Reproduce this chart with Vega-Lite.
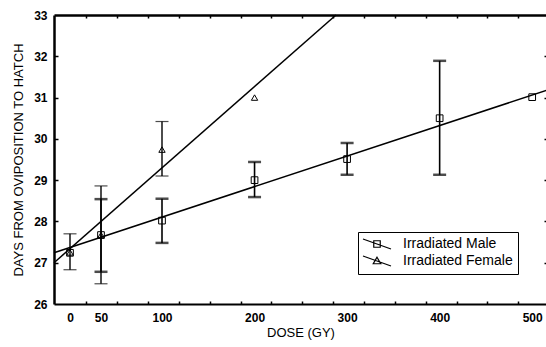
{
  "$schema": "https://vega.github.io/schema/vega-lite/v6.json",
  "width": 493,
  "height": 289,
  "autosize": {"type": "none"},
  "padding": {"left": 54, "top": 15, "right": 0, "bottom": 43},
  "background": "white",
  "config": {
    "view": {"stroke": null},
    "font": "Liberation Sans",
    "axis": {"labelFont": "Liberation Sans", "titleFont": "Liberation Sans", "domainColor": "black", "tickColor": "black", "labelColor": "black", "titleColor": "black", "grid": false},
    "legend": {
      "orient": "none", "legendX": 304, "legendY": 217,
      "strokeColor": "black", "fillColor": "white", "padding": 5, "cornerRadius": 0,
      "labelFont": "Liberation Sans", "labelFontSize": 14, "labelColor": "black",
      "symbolSize": 100, "symbolStrokeColor": "black", "symbolFillColor": "transparent", "symbolStrokeWidth": 1.2,
      "symbolOffset": 7, "rowPadding": 1, "labelOffset": 19
    }
  },
  "datasets": {
    "points": [
      {"series": "Irradiated Female", "dose": 0, "days": 27.25, "low": 26.83, "high": 27.7},
      {"series": "Irradiated Female", "dose": 50, "days": 27.67, "low": 26.49, "high": 28.86},
      {"series": "Irradiated Female", "dose": 100, "days": 29.74, "low": 29.1, "high": 30.42},
      {"series": "Irradiated Female", "dose": 200, "days": 31.0},
      {"series": "Irradiated Male", "dose": 0, "days": 27.24},
      {"series": "Irradiated Male", "dose": 50, "days": 27.67, "low": 26.78, "high": 28.54},
      {"series": "Irradiated Male", "dose": 100, "days": 28.02, "low": 27.48, "high": 28.55},
      {"series": "Irradiated Male", "dose": 200, "days": 29.0, "low": 28.59, "high": 29.44},
      {"series": "Irradiated Male", "dose": 300, "days": 29.51, "low": 29.13, "high": 29.9},
      {"series": "Irradiated Male", "dose": 400, "days": 30.5, "low": 29.13, "high": 31.89},
      {"series": "Irradiated Male", "dose": 500, "days": 31.01}
    ],
    "fits": [
      {"series": "Irradiated Male", "dose": -17, "days": 27.24},
      {"series": "Irradiated Male", "dose": 516, "days": 31.18},
      {"series": "Irradiated Female", "dose": -17, "days": 27.0},
      {"series": "Irradiated Female", "dose": 288, "days": 33.0}
    ]
  },
  "resolve": {"axis": {"x": "independent", "y": "independent"}},
  "layer": [
    {
      "data": {"name": "fits"},
      "mark": {"type": "line", "color": "black", "strokeWidth": 1.5},
      "encoding": {
        "x": {"field": "dose", "type": "quantitative",
          "scale": {"type": "linear", "domain": [-17, 0, 50, 100, 516], "range": [0, 16, 47, 108, 493], "nice": false, "zero": false},
          "axis": {"orient": "bottom", "values": [0, 50, 100, 200, 300, 400, 500], "ticks": false, "domainWidth": 2, "labelFontSize": 12, "labelFontWeight": "bold", "labelPadding": 8, "labelFlush": false, "labelOverlap": false, "title": "DOSE (GY)", "titleFontSize": 13, "titleFontWeight": "normal", "titlePadding": 3}},
        "y": {"field": "days", "type": "quantitative",
          "scale": {"domain": [26, 33], "nice": false, "zero": false},
          "axis": {"orient": "left", "values": [26, 27, 28, 29, 30, 31, 32, 33], "ticks": false, "domainWidth": 2.5, "labelFontSize": 12, "labelFontWeight": "bold", "labelPadding": 7, "labelFlush": false, "title": "DAYS FROM OVIPOSITION TO HATCH", "titleFontSize": 13, "titleFontWeight": "normal", "titlePadding": 8}},
        "detail": {"field": "series"}
      }
    },
    {
      "data": {"name": "points"},
      "transform": [{"filter": "datum.series === 'Irradiated Female' && isValid(datum.low)"}],
      "mark": {"type": "errorbar", "color": "black", "thickness": 1.4, "ticks": {"size": 13, "thickness": 1.2, "color": "black"}},
      "encoding": {
        "x": {"field": "dose", "type": "quantitative",
          "scale": {"type": "linear", "domain": [-17, 0, 50, 100, 516], "range": [0, 16, 47, 108, 493], "nice": false, "zero": false},
          "axis": {"orient": "bottom", "values": [25.8, 63.4, 88.8, 118.3, 151.7, 185, 218.3, 251.7, 285, 318.3, 351.7, 385, 418.3, 451.7, 485], "labels": false, "domain": false, "tickSize": -3, "tickWidth": 1.5, "title": null}},
        "y": {"field": "low", "type": "quantitative",
          "scale": {"domain": [26, 33], "nice": false, "zero": false},
          "axis": {"orient": "left", "values": [27, 28, 29, 30, 31, 32], "labels": false, "domain": false, "tickSize": -4, "tickWidth": 1.5, "title": null}},
        "y2": {"field": "high"}
      }
    },
    {
      "data": {"name": "points"},
      "transform": [{"filter": "datum.series === 'Irradiated Male' && isValid(datum.low)"}],
      "mark": {"type": "errorbar", "color": "black", "thickness": 1.6, "ticks": {"size": 13, "thickness": 2.5, "color": "black"}},
      "encoding": {
        "x": {"field": "dose", "type": "quantitative",
          "scale": {"type": "linear", "domain": [-17, 0, 50, 100, 516], "range": [0, 16, 47, 108, 493], "nice": false, "zero": false},
          "axis": {"orient": "top", "values": [25.8, 63.4, 88.8, 118.3, 151.7, 185, 218.3, 251.7, 285, 318.3, 351.7, 385, 418.3, 451.7, 485], "labels": false, "domainWidth": 2.5, "tickSize": -3, "tickWidth": 1.5, "title": null}},
        "y": {"field": "low", "type": "quantitative",
          "scale": {"domain": [26, 33], "nice": false, "zero": false},
          "axis": {"orient": "right", "values": [27, 28, 29, 30, 31, 32], "labels": false, "domainWidth": 2, "tickSize": -3, "tickWidth": 1.5, "title": null}},
        "y2": {"field": "high"}
      }
    },
    {
      "data": {"name": "points"},
      "transform": [{"filter": "datum.series === 'Irradiated Female'"}],
      "mark": {"type": "point", "shape": "triangle-up", "filled": false, "strokeWidth": 1, "size": 40, "opacity": 1},
      "encoding": {
        "x": {"field": "dose", "type": "quantitative",
          "scale": {"type": "linear", "domain": [-17, 0, 50, 100, 516], "range": [0, 16, 47, 108, 493], "nice": false, "zero": false},
          "axis": null},
        "y": {"field": "days", "type": "quantitative",
          "scale": {"domain": [26, 33], "nice": false, "zero": false},
          "axis": null},
        "color": {"field": "series", "type": "nominal",
          "scale": {"domain": ["Irradiated Male", "Irradiated Female"], "range": ["black", "black"]},
          "legend": {"title": null,
            "symbolType": {"expr": "datum.value === 'Irradiated Male' ? 'M-2.8,-1L2.8,1M-0.65,-0.65H0.65V0.65H-0.65Z' : 'M-2.8,-1L2.8,1M0,-0.75L0.75,0.55L-0.75,0.55Z'"}}}
      }
    },
    {
      "data": {"name": "points"},
      "transform": [{"filter": "datum.series === 'Irradiated Male'"}],
      "mark": {"type": "point", "shape": "square", "filled": false, "strokeWidth": 1, "size": 45, "opacity": 1},
      "encoding": {
        "x": {"field": "dose", "type": "quantitative",
          "scale": {"type": "linear", "domain": [-17, 0, 50, 100, 516], "range": [0, 16, 47, 108, 493], "nice": false, "zero": false},
          "axis": null},
        "y": {"field": "days", "type": "quantitative",
          "scale": {"domain": [26, 33], "nice": false, "zero": false},
          "axis": null},
        "color": {"field": "series", "type": "nominal",
          "scale": {"domain": ["Irradiated Male", "Irradiated Female"], "range": ["black", "black"]},
          "legend": {"title": null,
            "symbolType": {"expr": "datum.value === 'Irradiated Male' ? 'M-2.8,-1L2.8,1M-0.65,-0.65H0.65V0.65H-0.65Z' : 'M-2.8,-1L2.8,1M0,-0.75L0.75,0.55L-0.75,0.55Z'"}}}
      }
    }
  ]
}
